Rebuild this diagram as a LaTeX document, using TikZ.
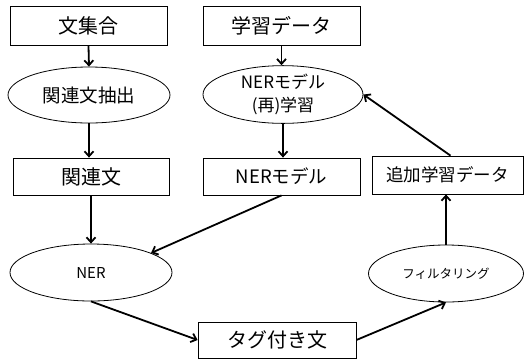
\documentclass[tikz,border=0pt]{standalone}
\usepackage{fontspec}
\setmainfont{Noto Sans CJK JP}
\usetikzlibrary{shapes.geometric,arrows.meta}
\begin{document}
\begin{tikzpicture}[x=1pt,y=-1pt,
  box/.style={draw,line width=0.8pt,rectangle,inner sep=0pt,font=\fontsize{20}{23}\selectfont},
  oval/.style={draw,line width=0.8pt,ellipse,inner sep=0pt},
  arr/.style={-{Straight Barb[length=5pt,width=9pt]},line width=1.8pt}]
\useasboundingbox (0,0) rectangle (525,360);
\node[box,minimum width=157pt,minimum height=39pt] (s1) at (88.5,26) {文集合};
\node[box,minimum width=157pt,minimum height=39pt] (s2) at (281.5,26) {学習データ};
\node[oval,minimum width=162pt,minimum height=56pt,font=\fontsize{18.5}{21}\selectfont] (e1) at (89,95) {関連文抽出};
\node[oval,minimum width=160pt,minimum height=55pt,align=center,font=\fontsize{17}{23}\selectfont] (e2) at (283,94.5) {NERモデル\\(再)学習};
\node[box,minimum width=156pt,minimum height=37pt] (r1) at (91,176.5) {関連文};
\node[box,minimum width=157pt,minimum height=37pt,font=\fontsize{18.5}{21}\selectfont] (r2) at (281.5,176.5) {NERモデル};
\node[box,minimum width=151pt,minimum height=38pt,font=\fontsize{17.5}{20}\selectfont] (r3) at (447.5,175) {追加学習データ};
\node[oval,minimum width=162pt,minimum height=57pt,font=\fontsize{15}{17}\selectfont] (ner) at (91,272.5) {NER};
\node[oval,minimum width=155pt,minimum height=57pt,font=\fontsize{12.5}{14}\selectfont] (filt) at (446,273.5) {フィルタリング};
\node[box,minimum width=158pt,minimum height=36pt] (tag) at (277,340) {タグ付き文};
\draw[arr] (s1.south) -- (e1.north);
\draw[arr] (s2.south) -- (s2.south |- e2.north);
\draw[arr] (e1.south) -- (e1.south |- r1.north);
\draw[arr] (e2.south) -- (e2.south |- r2.north);
\draw[arr] (r1.south) -- (r1.south |- ner.north);
\draw[arr] (r2.south) -- (ner.18);
\draw[arr] (ner.south) -- (tag.west);
\draw[arr] (tag.east) -- (filt.south);
\draw[arr] (filt.north) -- (filt.north |- r3.south);
\draw[arr] ([xshift=3pt]r3.north) -- (e2.east);
\end{tikzpicture}
\end{document}
